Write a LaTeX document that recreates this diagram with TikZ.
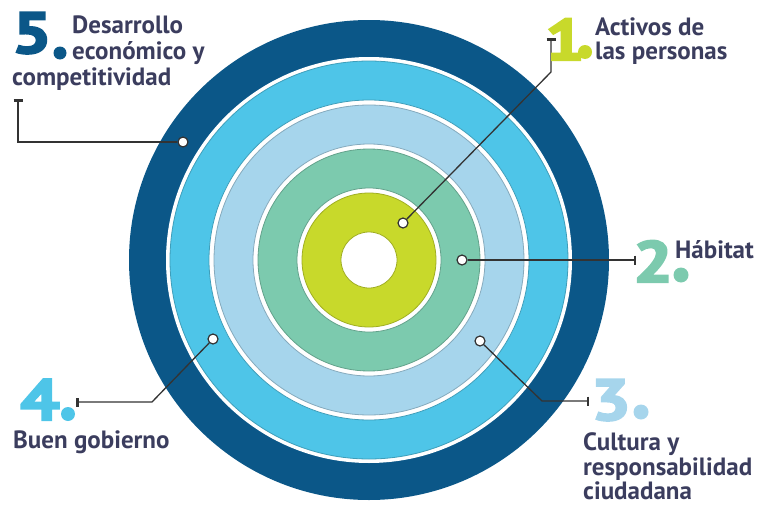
\documentclass[tikz,border=0pt]{standalone}
\usepackage{fontspec}
\setmainfont{PT Sans}
\newfontfamily\numfont[BoldFeatures={FakeBold=3.5}]{PT Sans}
\usetikzlibrary{arrows.meta}
\definecolor{dkblue}{HTML}{0B5788}
\definecolor{cyanr}{HTML}{4EC5E8}
\definecolor{ltblue}{HTML}{A6D5EC}
\definecolor{tealr}{HTML}{7CCAAE}
\definecolor{limer}{HTML}{C8D92B}
\definecolor{txt}{HTML}{3B3D5E}
\definecolor{lead}{HTML}{333333}
\newcommand{\widenum}[1]{\scalebox{1.2}[1]{#1}}
\begin{document}
\begin{tikzpicture}[x=1pt,y=-1pt,
  lbl/.style={anchor=base west, inner sep=0, text=txt, font=\fontsize{25}{27}\selectfont\bfseries},
  num/.style={anchor=base west, inner sep=0, font=\numfont\fontsize{58}{60}\selectfont\bfseries},
  pin/.style={circle, draw=lead, fill=white, line width=1.2pt, minimum size=10pt, inner sep=0},
  leader/.style={draw=lead, line width=1.3pt, -{Bar[width=9pt,line width=2.5pt]}},
  ring/.style={line width=0.8pt}]
\useasboundingbox (0,0) rectangle (761,506);
\coordinate (c) at (369,260);
% rings
\fill[dkblue] (c) circle (240);
\fill[white] (c) circle (203);
\filldraw[fill=cyanr, draw=cyanr!80!black, ring] (c) circle (199);
\filldraw[fill=white, draw=cyanr!80!black, ring] (c) circle (160);
\filldraw[fill=ltblue, draw=ltblue!80!black, ring] (c) circle (155);
\filldraw[fill=white, draw=ltblue!80!black, ring] (c) circle (116);
\filldraw[fill=tealr, draw=tealr!80!black, ring] (c) circle (111);
\filldraw[fill=white, draw=tealr!80!black, ring] (c) circle (72);
\filldraw[fill=limer, draw=limer!80!black, ring] (c) circle (67);
\filldraw[fill=white, draw=limer!80!black, ring] (c) circle (28);
% pins
\node[pin] (p1) at (403,223) {};
\node[pin] (p2) at (462,260) {};
\node[pin] (p3) at (480,341) {};
\node[pin] (p4) at (213,339) {};
\node[pin] (p5) at (183,142) {};
% leader bends and ends
\coordinate (b1) at (551,72);
\coordinate (e1) at (551,38);
\coordinate (e2) at (636,260);
\coordinate (b3) at (542,401);
\coordinate (e3) at (589,401);
\coordinate (b4) at (152,402);
\coordinate (e4) at (76,402);
\coordinate (b5) at (18,142);
\coordinate (e5) at (18,99);
\draw[leader] (p1) -- (b1) -- (e1);
\draw[leader] (p2) -- (e2);
\draw[leader] (p3) -- (b3) -- (e3);
\draw[leader] (p4) -- (b4) -- (e4);
\draw[leader] (p5) -- (b5) -- (e5);
% numbers
\node[num, text=dkblue] (n5) at (12,53) {\widenum{5}};
\fill[dkblue] (60,53) circle (6.5);
\node[num, text=limer] (n1) at (545,60) {\widenum{1}};
\fill[limer] (585,52) circle (7);
\node[num, text=tealr] (n2) at (633,282) {\widenum{2}};
\fill[tealr] (681,275) circle (7.5);
\node[num, text=ltblue] (n3) at (591,420) {\widenum{3}};
\fill[ltblue] (641,412) circle (7.5);
\node[num, text=cyanr] (n4) at (20,420) {\widenum{4}};
\fill[cyanr] (68,414) circle (7);
% labels
\node[lbl] (t5a) at (72,33) {Desarrollo};
\node[lbl] (t5b) at (72,59) {económico y};
\node[lbl] (t5c) at (12,85) {competitividad};
\node[lbl] (t1a) at (595,35) {Activos de};
\node[lbl] (t1b) at (595,59) {las personas};
\node[lbl] (t2) at (675,258) {Hábitat};
\node[lbl] (t3a) at (583,450) {Cultura y};
\node[lbl] (t3b) at (583,475) {responsabilidad};
\node[lbl] (t3c) at (583,499) {ciudadana};
\node[lbl] (t4) at (13,448) {Buen gobierno};
\end{tikzpicture}
\end{document}
